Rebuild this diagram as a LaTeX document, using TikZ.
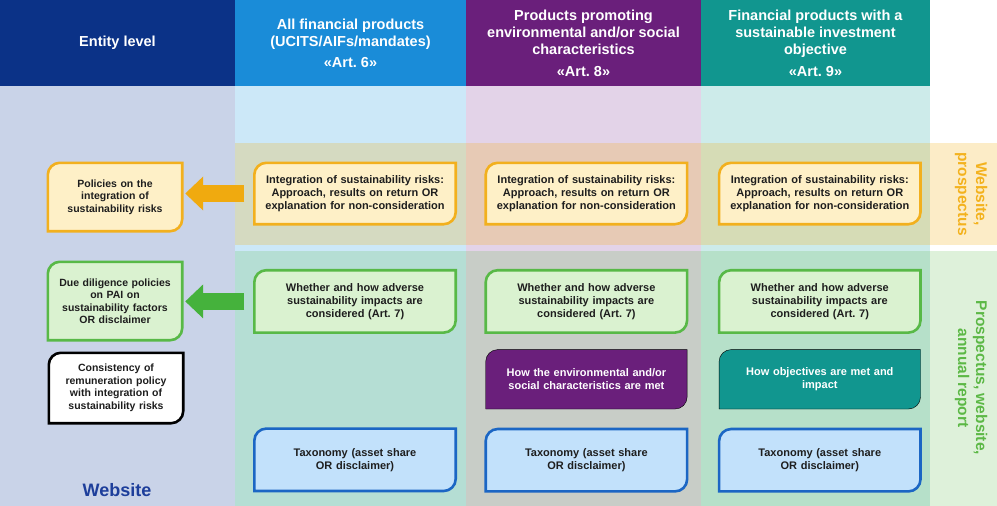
\documentclass[tikz,border=0pt]{standalone}
\usepackage{fontspec}
\setmainfont{Liberation Sans}
\usetikzlibrary{positioning}
\usetikzlibrary{arrows.meta}
\frenchspacing

\definecolor{navyhead}{HTML}{0B3287}
\definecolor{art6head}{HTML}{1A8CD8}
\definecolor{art8head}{HTML}{6A1F7B}
\definecolor{art9head}{HTML}{11968F}
\definecolor{entitybg}{HTML}{C9D3E8}
\definecolor{art6bg}{HTML}{CCE8F8}
\definecolor{art8bg}{HTML}{E3D3E8}
\definecolor{art9bg}{HTML}{CDEBEA}
\definecolor{bandyellow}{HTML}{F3B21E}
\definecolor{bandgreen}{HTML}{5CB846}
\definecolor{frameyellow}{HTML}{F2B01E}
\definecolor{creamfill}{HTML}{FEF0C7}
\definecolor{framegreen}{HTML}{58B947}
\definecolor{mintfill}{HTML}{DAF2D0}
\definecolor{frameblue}{HTML}{1B66C4}
\definecolor{skyfill}{HTML}{C2E1FB}
\definecolor{arrowyellow}{HTML}{F0AA0F}
\definecolor{arrowgreen}{HTML}{45B23C}
\definecolor{websiteblue}{HTML}{1D3E9B}
\definecolor{boxtext}{HTML}{1E1E1E}

\pgfdeclarelayer{bands}
\pgfdeclarelayer{frames}
\pgfsetlayers{bands,frames,main}

% frame with rounded top left and bottom right corners
\newcommand{\leafr}{12pt}
\newcommand{\leafc}{5.4pt}
\newcommand{\leafframe}[2]{%
	\begin{pgfonlayer}{frames}
		\draw[#2] ([yshift=-\leafr]#1.north west)
			.. controls ([yshift=-\leafc]#1.north west) and ([xshift=\leafc]#1.north west) .. ([xshift=\leafr]#1.north west)
			-- (#1.north east) -- ([yshift=\leafr]#1.south east)
			.. controls ([yshift=\leafc]#1.south east) and ([xshift=-\leafc]#1.south east) .. ([xshift=-\leafr]#1.south east)
			-- (#1.south west) -- cycle;
	\end{pgfonlayer}}

\begin{document}
\begin{tikzpicture}[x=1pt,y=-1pt,
		head/.style={minimum height=86pt, inner sep=0pt, align=center, text=white,
			font=\fontsize{14.5}{17}\selectfont\bfseries},
		prod/.style={minimum width=201pt, text width=195pt, inner sep=0pt, align=center,
			text=boxtext, font=\fontsize{11}{13}\selectfont\bfseries},
		entity/.style={minimum width=134pt, text width=128pt, inner sep=0pt, align=center,
			text=boxtext, font=\fontsize{10.5}{12.5}\selectfont\bfseries},
		yellowframe/.style={draw=frameyellow, fill=creamfill, line width=2.6pt},
		greenframe/.style={draw=framegreen, fill=mintfill, line width=2.6pt},
		blackframe/.style={draw=black, fill=white, line width=2.6pt},
		blueframe/.style={draw=frameblue, fill=skyfill, line width=2.6pt},
		purpleframe/.style={fill=art8head},
		tealframe/.style={fill=art9head},
		fatarrow/.style={line width=17pt, -{Triangle[width=33pt,length=18pt]}},
		sidelabel/.style={rotate=-90, align=center, font=\fontsize{15.5}{18}\selectfont\bfseries}]
		\useasboundingbox (0,0) rectangle (997,506);

		%% Columns and bands
		\begin{pgfonlayer}{bands}
			\fill[entitybg] (0,86) rectangle (235,506);
			\fill[art6bg] (235,86) rectangle (466,506);
			\fill[art8bg] (466,86) rectangle (701,506);
			\fill[art9bg] (701,86) rectangle (930,506);
			\fill[bandyellow, fill opacity=.25] (235,143) rectangle (997,245);
			\fill[bandgreen, fill opacity=.2] (235,251) rectangle (997,506);
		\end{pgfonlayer}

		%% Nodes
		% Header
		\begin{scope}
			\node (entity_head) at (117.5,43) [head, fill=navyhead, minimum width=235pt] {Entity level};
			\node (art6_head) at (350.5,43) [head, fill=art6head, minimum width=231pt] {All financial products\\(UCITS/AIFs/mandates)\\[4pt]«Art. 6»};
			\node (art8_head) at (583.5,43) [head, fill=art8head, minimum width=235pt] {Products promoting\\environmental and/or social\\characteristics\\[5pt]«Art. 8»};
			\node (art9_head) at (815.5,43) [head, fill=art9head, minimum width=229pt] {Financial products with a\\sustainable investment\\objective\\[5pt]«Art. 9»};
		\end{scope}

		% Entity level
		\begin{scope}
			\node (policies) at (115,197) [entity, minimum height=68pt] {Policies on the\\integration of\\sustainability risks};
			\node (diligence) at (115,301) [entity, minimum height=78pt] {Due diligence policies\\on PAI on\\sustainability factors\\OR disclaimer};
			\node (consistency) at (116,388) [entity, minimum height=70pt] {Consistency of\\remuneration policy\\with integration of\\sustainability risks};
			\node (website) at (117,490) [font=\fontsize{18}{20}\selectfont\bfseries, text=websiteblue] {Website};
		\end{scope}

		% Products
		\begin{scope}
			\node (risk_art6) at (355,193.5) [prod, minimum height=61pt] {Integration of sustainability risks:\\Approach, results on return OR\\explanation for non-consideration};
			\node (risk_art8) [prod, minimum height=61pt, right = 30pt of risk_art6] {Integration of sustainability risks:\\Approach, results on return OR\\explanation for non-consideration};
			\node (risk_art9) [prod, minimum height=61pt, right = 32pt of risk_art8] {Integration of sustainability risks:\\Approach, results on return OR\\explanation for non-consideration};

			\node (pai_art6) [prod, minimum height=62pt, below = 46pt of risk_art6] {Whether and how adverse\\sustainability impacts are\\considered (Art. 7)};
			\node (pai_art8) [prod, minimum height=62pt, below = 46pt of risk_art8] {Whether and how adverse\\sustainability impacts are\\considered (Art. 7)};
			\node (pai_art9) [prod, minimum height=62pt, below = 46pt of risk_art9] {Whether and how adverse\\sustainability impacts are\\considered (Art. 7)};

			\node (met_art8) [prod, text=white, minimum height=59pt, below = 17pt of pai_art8] {How the environmental and/or\\social characteristics are met};
			\node (met_art9) [prod, text=white, minimum height=59pt, below = 17pt of pai_art9] {How objectives are met and\\impact};

			\node (tax_art6) [prod, minimum height=62pt, below = 96pt of pai_art6] {Taxonomy (asset share\\OR disclaimer)};
			\node (tax_art8) [prod, minimum height=62pt, below = 20pt of met_art8] {Taxonomy (asset share\\OR disclaimer)};
			\node (tax_art9) [prod, minimum height=62pt, below = 20pt of met_art9] {Taxonomy (asset share\\OR disclaimer)};
		\end{scope}

		% Side labels
		\begin{scope}
			\node (prospectus_label) at (971,194) [sidelabel, text=bandyellow] {Website,\\prospectus};
			\node (report_label) at (971,378) [sidelabel, text=bandgreen] {Prospectus, website,\\annual report};
		\end{scope}

		%% Frames
		\leafframe{policies}{yellowframe}
		\leafframe{diligence}{greenframe}
		\leafframe{consistency}{blackframe}
		\leafframe{risk_art6}{yellowframe}
		\leafframe{risk_art8}{yellowframe}
		\leafframe{risk_art9}{yellowframe}
		\leafframe{pai_art6}{greenframe}
		\leafframe{pai_art8}{greenframe}
		\leafframe{pai_art9}{greenframe}
		\leafframe{met_art8}{purpleframe}
		\leafframe{met_art9}{tealframe}
		\leafframe{tax_art6}{blueframe}
		\leafframe{tax_art8}{blueframe}
		\leafframe{tax_art9}{blueframe}

		%% Edges
		\draw[fatarrow, draw=arrowyellow, shorten <=10pt, shorten >=3pt] (risk_art6.west) -- (risk_art6.west -| policies.east);
		\draw[fatarrow, draw=arrowgreen, shorten <=10pt, shorten >=3pt] (pai_art6.west) -- (pai_art6.west -| diligence.east);
	\end{tikzpicture}
\end{document}
